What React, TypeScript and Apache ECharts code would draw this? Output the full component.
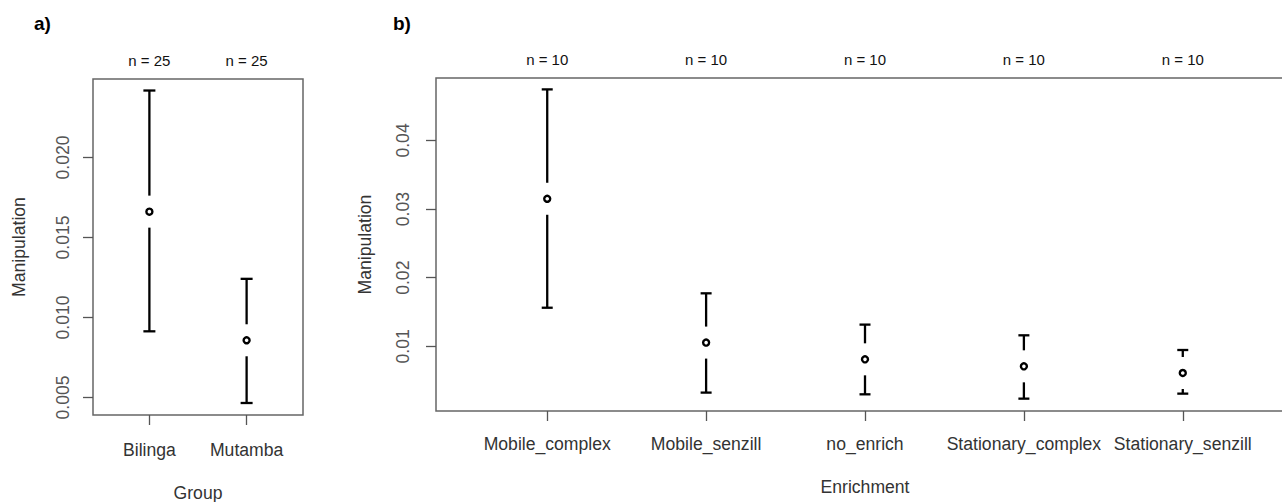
import React, { useEffect, useRef } from "react";
import * as echarts from "echarts";

const groups = ["Bilinga", "Mutamba"];
const groupMean = [0.01661, 0.00857];
const groupLow = [0.00913, 0.00465];
const groupHigh = [0.02418, 0.01241];
const groupN = [25, 25];
const groupTicks = [0.005, 0.01, 0.015, 0.02];

const enrich = ["Mobile_complex", "Mobile_senzill", "no_enrich", "Stationary_complex", "Stationary_senzill"];
const enrichMean = [0.0315, 0.01054, 0.0081, 0.00708, 0.00611];
const enrichLow = [0.01562, 0.00325, 0.003, 0.00237, 0.0031];
const enrichHigh = [0.04744, 0.01772, 0.01316, 0.0116, 0.00946];
const enrichN = [10, 10, 10, 10, 10];
const enrichTicks = [0.01, 0.02, 0.03, 0.04];

const FONT = "Liberation Sans, Arial, sans-serif";
const FS = 17.6;

function makeRender(capHalf: number) {
  return (params: any, api: any) => {
    const x = api.value(0);
    const lo = api.coord([x, api.value(1)]);
    const mn = api.coord([x, api.value(2)]);
    const hi = api.coord([x, api.value(3)]);
    const gap = 16;
    const lw = 2.3;
    const st = { stroke: "#000", lineWidth: lw };
    const children: any[] = [];
    if (hi[1] < mn[1] - gap) {
      children.push({ type: "line", shape: { x1: mn[0], y1: hi[1], x2: mn[0], y2: mn[1] - gap }, style: st });
    }
    if (lo[1] > mn[1] + gap) {
      children.push({ type: "line", shape: { x1: mn[0], y1: mn[1] + gap, x2: mn[0], y2: lo[1] }, style: st });
    }
    children.push({ type: "line", shape: { x1: mn[0] - capHalf, y1: hi[1], x2: mn[0] + capHalf, y2: hi[1] }, style: st });
    children.push({ type: "line", shape: { x1: mn[0] - capHalf, y1: lo[1], x2: mn[0] + capHalf, y2: lo[1] }, style: st });
    children.push({ type: "circle", shape: { cx: mn[0], cy: mn[1], r: 3 }, style: { fill: "#fff", stroke: "#000", lineWidth: 2.4 } });
    return { type: "group", children };
  };
}

export default function App() {
  const ref = useRef<HTMLDivElement>(null);
  useEffect(() => {
    document.body.style.margin = "0";
    if (!ref.current) return;
    const chart = echarts.init(ref.current, null, { renderer: "svg" });
    const gIdx = groups.map((_, i) => i + 1);
    const eIdx = enrich.map((_, i) => i + 1);
    const tickStyle = { show: true, inside: false, length: 10, lineStyle: { color: "#555", width: 1.3 } };
    const yLabel = (dec: number, margin: number) => ({
      rotate: 90,
      margin,
      color: "#555",
      fontSize: FS,
      fontFamily: FONT,
      formatter: (v: number) => v.toFixed(dec),
    });
    const option: any = {
      animation: false,
      backgroundColor: "#fff",
      textStyle: { fontFamily: FONT },
      grid: [
        { left: 93, top: 79, width: 210, height: 336, show: true, borderColor: "#666", borderWidth: 1.5, backgroundColor: "transparent", outerBoundsMode: "none", containLabel: false },
        { left: 436, top: 78, width: 858, height: 333, show: true, borderColor: "#666", borderWidth: 1.5, backgroundColor: "transparent", outerBoundsMode: "none", containLabel: false },
      ],
      xAxis: [
        {
          type: "value", gridIndex: 0, min: 0.42, max: 2.58, position: "bottom",
          axisLine: { show: false }, splitLine: { show: false },
          axisTick: { ...tickStyle, customValues: gIdx },
          axisLabel: { customValues: gIdx, margin: 26, color: "#333", fontSize: FS, fontFamily: FONT, formatter: (v: number) => groups[Math.round(v) - 1] ?? "" },
          name: "Group", nameLocation: "middle", nameGap: 69,
          nameTextStyle: { color: "#333", fontSize: FS, fontFamily: FONT },
        },
        {
          type: "value", gridIndex: 0, min: 0.42, max: 2.58, position: "top",
          axisLine: { show: false }, splitLine: { show: false }, axisTick: { show: false },
          axisLabel: { customValues: gIdx, margin: 11, color: "#111", fontSize: 15, fontFamily: FONT, formatter: (v: number) => "n = " + (groupN[Math.round(v) - 1] ?? "") },
        },
        {
          type: "value", gridIndex: 1, min: 0.3, max: 5.7, position: "bottom",
          axisLine: { show: false }, splitLine: { show: false },
          axisTick: { ...tickStyle, customValues: eIdx },
          axisLabel: { customValues: eIdx, margin: 23.5, color: "#333", fontSize: FS, fontFamily: FONT, formatter: (v: number) => enrich[Math.round(v) - 1] ?? "" },
          name: "Enrichment", nameLocation: "middle", nameGap: 67,
          nameTextStyle: { color: "#333", fontSize: FS, fontFamily: FONT },
        },
        {
          type: "value", gridIndex: 1, min: 0.3, max: 5.7, position: "top",
          axisLine: { show: false }, splitLine: { show: false }, axisTick: { show: false },
          axisLabel: { customValues: eIdx, margin: 11, color: "#111", fontSize: 15, fontFamily: FONT, formatter: (v: number) => "n = " + (enrichN[Math.round(v) - 1] ?? "") },
        },
      ],
      yAxis: [
        {
          type: "value", gridIndex: 0, min: 0.0039, max: 0.0249,
          axisLine: { show: false }, splitLine: { show: false },
          axisTick: { ...tickStyle, customValues: groupTicks },
          axisLabel: { ...yLabel(3, 21), customValues: groupTicks },
          name: "Manipulation", nameLocation: "middle", nameGap: 65, nameRotate: 90,
          nameTextStyle: { color: "#333", fontSize: FS, fontFamily: FONT },
        },
        {
          type: "value", gridIndex: 1, min: 0.00057, max: 0.0491,
          axisLine: { show: false }, splitLine: { show: false },
          axisTick: { ...tickStyle, customValues: enrichTicks },
          axisLabel: { ...yLabel(2, 24), customValues: enrichTicks },
          name: "Manipulation", nameLocation: "middle", nameGap: 62, nameRotate: 90,
          nameTextStyle: { color: "#333", fontSize: FS, fontFamily: FONT },
        },
      ],
      graphic: [
        { type: "text", left: 34, top: 14, style: { text: "a)", fontSize: 19, fontWeight: "bold", fill: "#000", fontFamily: FONT } },
        { type: "text", left: 393, top: 14, style: { text: "b)", fontSize: 19, fontWeight: "bold", fill: "#000", fontFamily: FONT } },
      ],
      series: [
        {
          type: "custom", xAxisIndex: 0, yAxisIndex: 0, clip: false,
          renderItem: makeRender(6),
          data: groups.map((_, i) => [i + 1, groupLow[i], groupMean[i], groupHigh[i]]),
        },
        {
          type: "custom", xAxisIndex: 2, yAxisIndex: 1, clip: false,
          renderItem: makeRender(5.5),
          data: enrich.map((_, i) => [i + 1, enrichLow[i], enrichMean[i], enrichHigh[i]]),
        },
      ],
    };
    chart.setOption(option);
    return () => chart.dispose();
  }, []);
  return <div ref={ref} style={{ width: 1282, height: 502 }} />;
}
